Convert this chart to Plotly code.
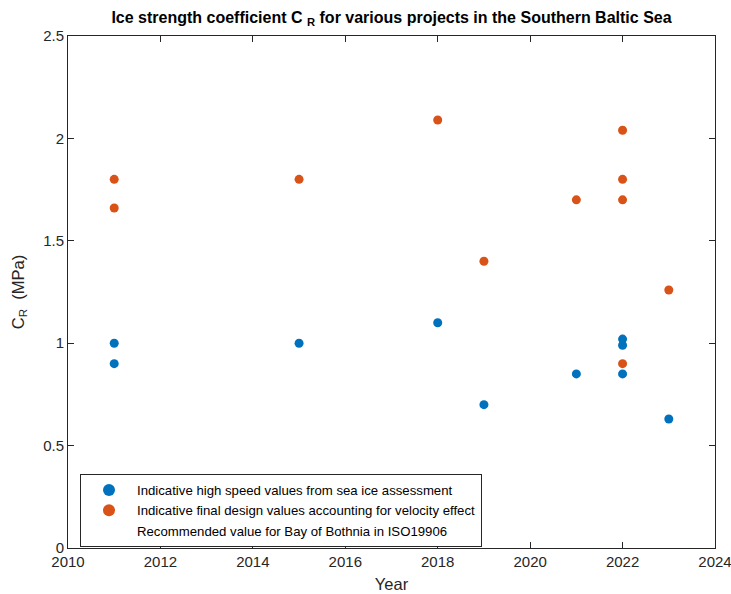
import plotly.graph_objects as go

# Project years and ice strength coefficients (MPa)
years_high = [2011, 2011, 2015, 2018, 2019, 2021, 2022, 2022, 2022, 2023]
cr_high = [1.00, 0.90, 1.00, 1.10, 0.70, 0.85, 1.02, 0.99, 0.85, 0.63]

years_final = [2011, 2011, 2015, 2018, 2019, 2021, 2022, 2022, 2022, 2022, 2023]
cr_final = [1.80, 1.66, 1.80, 2.09, 1.40, 1.70, 2.04, 1.80, 1.70, 0.90, 1.26]

x_ticks = [2010, 2012, 2014, 2016, 2018, 2020, 2022, 2024]
y_ticks = [0, 0.5, 1, 1.5, 2, 2.5]
y_tick_text = ["0", "0.5", "1", "1.5", "2", "2.5"]

BLUE = "#0072BD"
ORANGE = "#D95319"
INK = "#262626"
FONT = "Liberation Sans, Arial, sans-serif"

fig = go.Figure()
fig.add_trace(go.Scatter(
    x=years_high, y=cr_high, mode="markers",
    marker=dict(color=BLUE, size=9),
    name="Indicative high speed values from sea ice assessment",
))
fig.add_trace(go.Scatter(
    x=years_final, y=cr_final, mode="markers",
    marker=dict(color=ORANGE, size=9),
    name="Indicative final design values accounting for velocity effect",
))
fig.add_trace(go.Scatter(
    x=[None], y=[None], mode="lines",
    line=dict(width=0, color="rgba(0,0,0,0)"),
    name="Recommended value for Bay of Bothnia in ISO19906",
))

axis_common = dict(
    showgrid=False, zeroline=False, showline=True, linecolor=INK, linewidth=1,
    mirror="ticks", ticks="inside", ticklen=6, tickcolor=INK, automargin=False,
    ticklabeloverflow="allow",
    tickfont=dict(family=FONT, size=15, color=INK),
)

fig.update_layout(
    width=731, height=594,
    margin=dict(l=68, r=16, t=36, b=46),
    paper_bgcolor="white", plot_bgcolor="white",
    font=dict(family=FONT, color=INK),
    title=dict(
        text="<b>Ice strength coefficient C <sub>R</sub> for various projects in the Southern Baltic Sea</b>",
        x=(68 + 715) / 2 / 731, xref="container", xanchor="center",
        y=1 - 17 / 594, yanchor="middle",
        font=dict(family=FONT, size=16, color="black"),
    ),
    xaxis=dict(
        range=[2010, 2024], tickvals=x_ticks,
        title=dict(text="Year", font=dict(family=FONT, size=16.5, color=INK), standoff=9),
        **axis_common,
    ),
    yaxis=dict(
        range=[0, 2.5], tickvals=y_ticks, ticktext=y_tick_text,
        title=dict(text="C<sub>R</sub>  (MPa)", font=dict(family=FONT, size=16.5, color=INK), standoff=14),
        **axis_common,
    ),
    showlegend=True,
    legend=dict(
        x=(80 - 68) / 647, y=(548 - 474) / 512, xanchor="left", yanchor="top",
        bgcolor="white", bordercolor=INK, borderwidth=1,
        font=dict(family=FONT, size=13.2, color="black"),
        tracegroupgap=0, itemsizing="constant", itemwidth=46,
    ),
)

fig.write_html("out.html")
